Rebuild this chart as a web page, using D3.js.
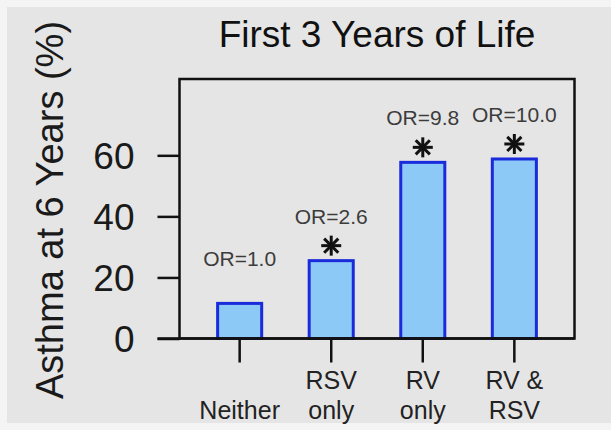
<!DOCTYPE html>
<html>
<head>
<meta charset="utf-8">
<script src="https://cdn.jsdelivr.net/npm/d3@7"></script>
<style>
  html, body { margin: 0; padding: 0; background: #f4f4f4; }
  svg { display: block; font-family: "Liberation Sans", Arial, sans-serif; }
</style>
</head>
<body>
<svg id="chart" width="611" height="430"></svg>
<script>
// Viral wheezing illness group in the first 3 years of life
const categories = ["Neither", "RSV only", "RV only", "RV & RSV"];
// Two-line tick labels for the x axis
const categoryLines = [["", "Neither"], ["RSV", "only"], ["RV", "only"], ["RV &", "RSV"]];
// Percent with asthma at 6 years
const asthmaPct = [11.5, 25.5, 57.7, 58.8];
// Odds ratio annotations
const oddsLabels = ["OR=1.0", "OR=2.6", "OR=9.8", "OR=10.0"];
// Significant difference marker per group
const significant = [false, true, true, true];
const yTicks = [0, 20, 40, 60];

const svg = d3.select("#chart");

// panel background
svg.append("rect")
  .attr("x", 7).attr("y", 7).attr("width", 604).attr("height", 416)
  .attr("fill", "#e5e5e5");

const plot = { left: 179.5, right: 574.5, top: 79, bottom: 338.5 };

const y = d3.scaleLinear().domain([0, 85]).range([plot.bottom, plot.top]);
const x = d3.scaleBand()
  .domain(categories)
  .range([plot.left, plot.right])
  .paddingInner(0.486)
  .paddingOuter(0.4);

// title
svg.append("text")
  .attr("x", 377).attr("y", 47)
  .attr("text-anchor", "middle")
  .attr("font-size", 37)
  .attr("fill", "#111")
  .text("First 3 Years of Life");

// y-axis title
svg.append("text")
  .attr("transform", "translate(63,210) rotate(-90)")
  .attr("text-anchor", "middle")
  .attr("font-size", 38)
  .attr("fill", "#1a1a1a")
  .text("Asthma at 6 Years (%)");

// bars
const bw = 3;
svg.append("g").selectAll("rect")
  .data(asthmaPct)
  .join("rect")
  .attr("x", (d, i) => x(categories[i]) + bw / 2)
  .attr("width", x.bandwidth() - bw)
  .attr("y", d => y(d))
  .attr("height", d => y(0) - y(d))
  .attr("fill", "#8cc9f6")
  .attr("stroke", "#1a2bdc")
  .attr("stroke-width", bw);

// plot frame
svg.append("rect")
  .attr("x", plot.left).attr("y", plot.top)
  .attr("width", plot.right - plot.left)
  .attr("height", plot.bottom - plot.top)
  .attr("fill", "none")
  .attr("stroke", "#111")
  .attr("stroke-width", 2.5);

// y axis
const yAxis = svg.append("g")
  .attr("transform", `translate(${plot.left},0)`)
  .call(d3.axisLeft(y).tickValues(yTicks).tickSize(22).tickPadding(23));
yAxis.select(".domain").remove();
yAxis.selectAll(".tick line").attr("stroke", "#111").attr("stroke-width", 2.5);
yAxis.selectAll(".tick text")
  .attr("font-size", 37)
  .attr("fill", "#1a1a1a")
  .attr("font-family", "Liberation Sans, Arial, sans-serif")
  .attr("dy", "0.36em");

// x axis
const xAxis = svg.append("g")
  .attr("transform", `translate(0,${plot.bottom})`)
  .call(d3.axisBottom(x).tickSize(24).tickFormat(""));
xAxis.select(".domain").remove();
xAxis.selectAll(".tick line").attr("stroke", "#111").attr("stroke-width", 2.5);
xAxis.selectAll(".tick text").remove();

// zero baseline extending left to meet the y ticks
svg.append("line")
  .attr("x1", plot.left - 22).attr("x2", plot.right)
  .attr("y1", y(0)).attr("y2", y(0))
  .attr("stroke", "#111").attr("stroke-width", 2.5);

// x category labels (two lines)
const labelG = svg.append("g")
  .attr("font-size", 25)
  .attr("fill", "#222")
  .attr("text-anchor", "middle");
categories.forEach((c, i) => {
  const cx = x(c) + x.bandwidth() / 2;
  categoryLines[i].forEach((line, j) => {
    if (!line) return;
    labelG.append("text")
      .attr("x", cx)
      .attr("y", 389 + j * 30)
      .text(line);
  });
});

// odds ratio annotations
svg.append("g").selectAll("text")
  .data(asthmaPct)
  .join("text")
  .attr("x", (d, i) => x(categories[i]) + x.bandwidth() / 2)
  .attr("y", d => y(d) - 37)
  .attr("text-anchor", "middle")
  .attr("font-size", 21)
  .attr("fill", "#3c3c3c")
  .text((d, i) => oddsLabels[i]);

// significance asterisks
const star = svg.append("g");
asthmaPct.forEach((d, i) => {
  if (!significant[i]) return;
  const cx = x(categories[i]) + x.bandwidth() / 2;
  const cy = y(d) - 15;
  const r = 10;
  [0, 45, 90, 135].forEach(a => {
    const t = a * Math.PI / 180;
    star.append("line")
      .attr("x1", cx - r * Math.cos(t)).attr("y1", cy - r * Math.sin(t))
      .attr("x2", cx + r * Math.cos(t)).attr("y2", cy + r * Math.sin(t))
      .attr("stroke", "#111")
      .attr("stroke-width", 3);
  });
});
</script>
</body>
</html>
